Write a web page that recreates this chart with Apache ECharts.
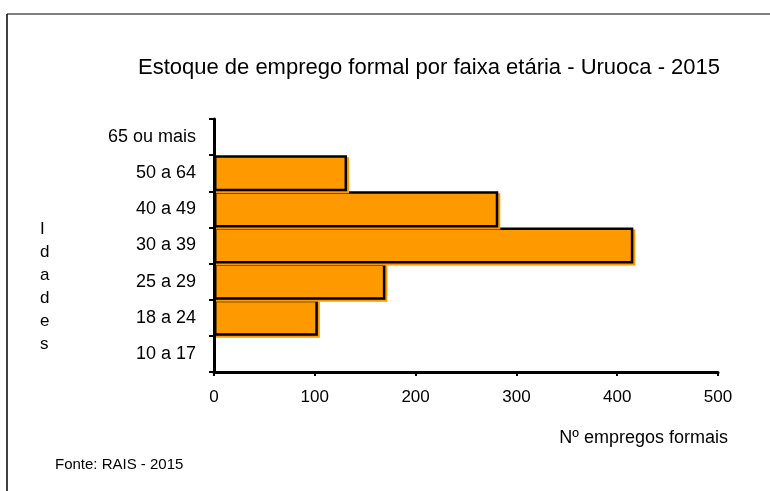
<!DOCTYPE html>
<html>
<head>
<meta charset="utf-8">
<script src="https://cdn.jsdelivr.net/npm/echarts@6/dist/echarts.min.js"></script>
<style>
  html, body { margin: 0; padding: 0; background: #fff; }
  #chart { width: 770px; height: 491px; }
</style>
</head>
<body>
<div id="chart"></div>
<script>
// faixas etárias (de baixo para cima)
const faixas = ['10 a 17', '18 a 24', '25 a 29', '30 a 39', '40 a 49', '50 a 64', '65 ou mais'];
// estoque de emprego formal
const empregos = ['-', 103, 170, 416, 282, 132, '-'];
const xTicks = { min: 0, max: 500, interval: 100 };

const font = '"Liberation Sans", Arial, sans-serif';

const chart = echarts.init(document.getElementById('chart'));

const option = {
  backgroundColor: '#fff',
  animation: false,
  title: {
    text: 'Estoque de emprego formal por faixa etária - Uruoca - 2015',
    left: 424,
    textAlign: 'center',
    top: 52,
    textStyle: { fontFamily: font, fontSize: 22, fontWeight: 'normal', color: '#000' }
  },
  grid: { left: 214, right: 52, top: 119, bottom: 119, containLabel: false },
  xAxis: {
    type: 'value',
    min: xTicks.min,
    max: xTicks.max,
    interval: xTicks.interval,
    splitLine: { show: false },
    axisLine: { show: true, lineStyle: { color: '#000', width: 3 } },
    axisTick: { show: true, length: 4, lineStyle: { color: '#000', width: 2 } },
    axisLabel: { margin: 17, fontFamily: font, fontSize: 17, color: '#000' }
  },
  yAxis: {
    type: 'category',
    data: faixas,
    axisLine: { show: true, lineStyle: { color: '#000', width: 3 } },
    axisTick: { show: true, length: 5, lineStyle: { color: '#000', width: 2 } },
    axisLabel: { margin: 18, fontFamily: font, fontSize: 18, color: '#000' }
  },
  series: [{
    type: 'bar',
    data: empregos,
    barCategoryGap: '0%',
    itemStyle: {
      color: '#FF9900',
      borderColor: '#000',
      borderWidth: 2.5,
      shadowColor: '#FF9900',
      shadowOffsetX: 2,
      shadowOffsetY: 2
    }
  }],
  graphic: [
    { type: 'line', shape: { x1: 7, y1: 14, x2: 770, y2: 14 }, style: { stroke: '#808080', lineWidth: 2 } },
    { type: 'line', shape: { x1: 7, y1: 14, x2: 7, y2: 491 }, style: { stroke: '#000', lineWidth: 1.5 } },
    {
      type: 'text', left: 40, top: 218,
      style: { text: 'I\nd\na\nd\ne\ns', fontFamily: font, fontSize: 17, lineHeight: 23, fill: '#000', align: 'center' }
    },
    {
      type: 'text', right: 42, top: 429,
      style: { text: 'Nº empregos formais', fontFamily: font, fontSize: 18, fill: '#000' }
    },
    {
      type: 'text', left: 55, top: 457,
      style: { text: 'Fonte: RAIS - 2015', fontFamily: font, fontSize: 15, fill: '#000' }
    }
  ]
};

chart.setOption(option);
</script>
</body>
</html>
